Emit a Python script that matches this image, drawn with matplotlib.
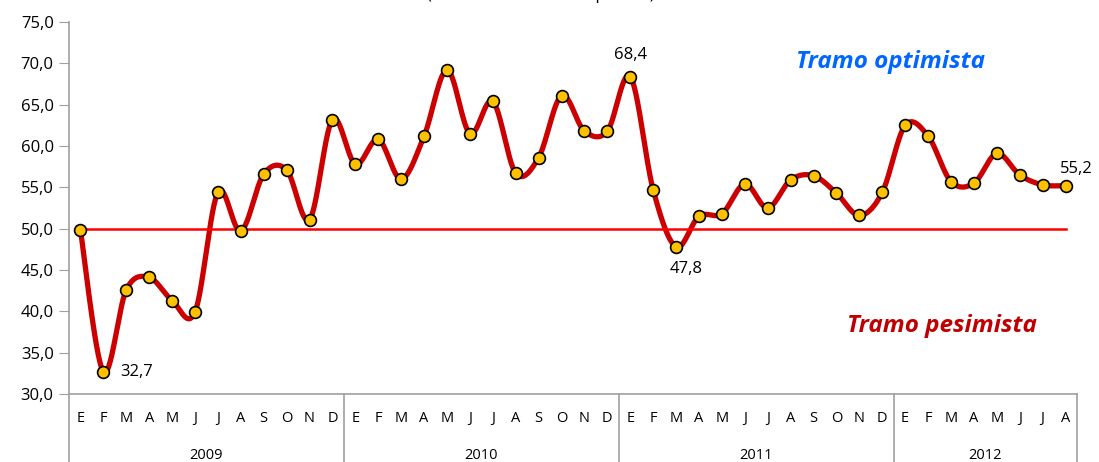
import numpy as np
import matplotlib
matplotlib.use("Agg")
import matplotlib.pyplot as plt
import matplotlib.transforms as mtransforms

plt.rcParams['font.family'] = ['Open Sans', 'DejaVu Sans']

# datos
meses = ['E', 'F', 'M', 'A', 'M', 'J', 'J', 'A', 'S', 'O', 'N', 'D']
anios = ['2009', '2010', '2011', '2012']
meses_por_anio = [12, 12, 12, 8]
v2009 = [49.8, 32.7, 42.6, 44.1, 41.3, 39.9, 54.4, 49.7, 56.6, 57.1, 51.1, 63.2]
v2010 = [57.8, 60.8, 56.0, 61.2, 69.2, 61.5, 65.4, 56.7, 58.6, 66.1, 61.8, 61.8]
v2011 = [68.4, 54.7, 47.8, 51.5, 51.8, 55.4, 52.5, 55.9, 56.4, 54.3, 51.6, 54.4]
v2012 = [62.5, 61.2, 55.7, 55.5, 59.1, 56.5, 55.3, 55.2]
umbral = 50.0

valores = np.array(v2009 + v2010 + v2011 + v2012)
etiquetas = []
for n in meses_por_anio:
    etiquetas += meses[:n]
x = np.arange(len(valores))


# curva suavizada tipo Excel (Catmull-Rom)
def suavizar(xs, ys, n=30):
    px = np.concatenate([[xs[0]], xs, [xs[-1]]])
    py = np.concatenate([[ys[0]], ys, [ys[-1]]])
    cx, cy = [], []
    for i in range(1, len(px) - 2):
        p0, p1, p2, p3 = [np.array([px[j], py[j]]) for j in (i - 1, i, i + 1, i + 2)]
        c1 = p1 + (p2 - p0) / 6
        c2 = p2 - (p3 - p1) / 6
        t = np.linspace(0, 1, n)[:, None]
        b = ((1 - t) ** 3) * p1 + 3 * ((1 - t) ** 2) * t * c1 + 3 * (1 - t) * t ** 2 * c2 + t ** 3 * p2
        cx.append(b[:, 0])
        cy.append(b[:, 1])
    return np.concatenate(cx), np.concatenate(cy)


fig = plt.figure(figsize=(10.99, 4.62), dpi=100)
ax = fig.add_axes([69 / 1099, 1 - 394 / 462, (1077 - 69) / 1099, 372 / 462])

sx, sy = suavizar(x.astype(float), valores)
ax.plot(sx, sy, color='#CC0000', lw=3.8, zorder=2, solid_capstyle='round')
ax.plot([x[0], x[-1]], [umbral, umbral], color='#FF0000', lw=1.8, zorder=3)
ax.plot(x, valores, 'o', ms=8.5, mfc='#FFC000', mec='black', mew=1.2, zorder=4)

ax.set_xlim(-0.5, len(valores) - 0.5)
ax.set_ylim(30, 75)
ax.set_yticks(np.arange(30, 76, 5))
ax.set_yticklabels([f'{v:.1f}'.replace('.', ',') for v in np.arange(30, 76, 5)], fontsize=12)
ax.set_xticks([])
for s in ['top', 'right']:
    ax.spines[s].set_visible(False)
for s in ['left', 'bottom']:
    ax.spines[s].set_color('#A0A0A0')
    ax.spines[s].set_linewidth(1.2)
ax.tick_params(axis='y', direction='out', length=7, color='#A0A0A0', pad=4)

# ejes de categorias
trans = mtransforms.blended_transform_factory(ax.transData, ax.transAxes)
for xi, et in zip(x, etiquetas):
    ax.text(xi, -0.066, et, transform=trans, ha='center', va='center', fontsize=10.5)
fondo = -(462 - 394) / 372
inicio = 0
cortes = [-0.5]
for a, n in zip(anios, meses_por_anio):
    ax.text(inicio + (n - 1) / 2, -0.165, a, transform=trans, ha='center', va='center', fontsize=10.5)
    inicio += n
    cortes.append(inicio - 0.5)
for c in cortes:
    ax.plot([c, c], [0, fondo - 0.05], transform=trans, color='#A0A0A0', lw=1.2, clip_on=False)

# etiquetas de datos
ax.annotate('32,7', (1, 32.7), xytext=(12, 0), textcoords='offset points', ha='left', va='center', fontsize=12)
ax.annotate('68,4', (24, 68.4), xytext=(0, 10), textcoords='offset points', ha='center', va='bottom', fontsize=12)
ax.annotate('47,8', (26, 47.8), xytext=(7, -10), textcoords='offset points', ha='center', va='top', fontsize=12)
ax.annotate('55,2', (43, 55.2), xytext=(-4, 6), textcoords='offset points', ha='left', va='bottom', fontsize=12)

ax.text(890 / 1099, 1 - 62 / 462, 'Tramo optimista', transform=fig.transFigure, ha='center', va='center',
        fontsize=17.5, color='#0066FF', fontweight='bold', style='italic')
ax.text(942 / 1099, 1 - 326 / 462, 'Tramo pesimista', transform=fig.transFigure, ha='center', va='center',
        fontsize=17.5, color='#C00000', fontweight='bold', style='italic')

fig.text(0.492, 1 + 1 / 462, '(Valores del índice en puntos)', ha='center', va='baseline', fontsize=12)

fig.savefig('out.png', dpi=100)
